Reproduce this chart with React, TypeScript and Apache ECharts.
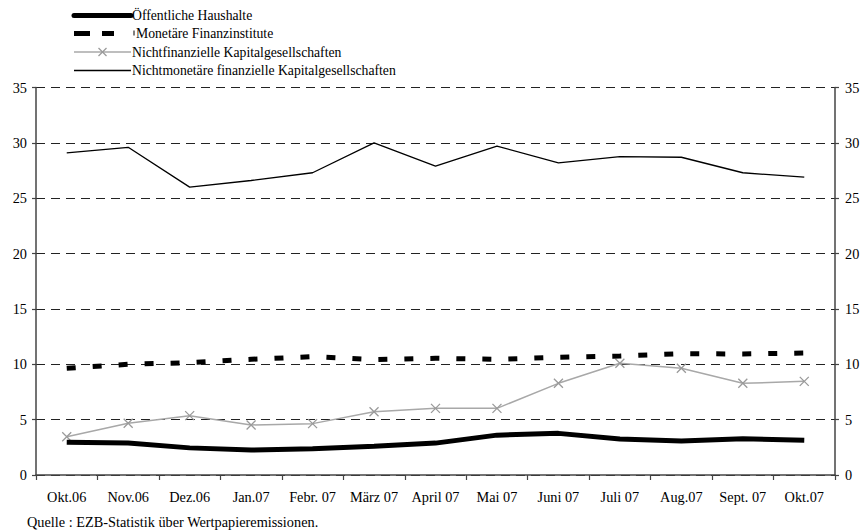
import React, { useEffect, useRef } from "react";
import * as echarts from "echarts";

const categories = ["Okt.06", "Nov.06", "Dez.06", "Jan.07", "Febr. 07", "März 07", "April 07", "Mai 07", "Juni 07", "Juli 07", "Aug.07", "Sept. 07", "Okt.07"];
const oeffentlicheHaushalte = [2.95, 2.9, 2.45, 2.25, 2.38, 2.6, 2.88, 3.6, 3.76, 3.25, 3.07, 3.28, 3.13];
const monetaereFinanzinstitute = [9.64, 10.0, 10.15, 10.45, 10.69, 10.42, 10.54, 10.45, 10.63, 10.75, 10.96, 10.93, 11.02];
const nichtfinanzielle = [3.46, 4.67, 5.36, 4.52, 4.64, 5.72, 6.02, 6.02, 8.28, 10.09, 9.64, 8.28, 8.46];
const nichtmonetaere = [29.1, 29.6, 26.0, 26.6, 27.3, 30.0, 27.9, 29.7, 28.2, 28.75, 28.7, 27.3, 26.9];
const seriesNames = [
  "Öffentliche Haushalte",
  "Monetäre Finanzinstitute",
  "Nichtfinanzielle Kapitalgesellschaften",
  "Nichtmonetäre finanzielle Kapitalgesellschaften",
];
const sourceNote = "Quelle : EZB-Statistik über Wertpapieremissionen.";

const FONT = "Liberation Serif";
const GREY_LINE = "#a8a8a8";
const GREY_MARK = "#9a9a9a";
const AXIS_COLOR = "#444";

function legendGraphic() {
  const x0 = 74;
  const x1 = 131;
  const textX = 132;
  const rows = [15.5, 33.5, 52, 70.5];
  const els: any[] = [];
  els.push({ type: "line", shape: { x1: x0, y1: rows[0], x2: x1, y2: rows[0] }, style: { stroke: "#000", lineWidth: 5, lineCap: "round" } });
  els.push({ type: "line", shape: { x1: x0, y1: rows[1], x2: 114, y2: rows[1] }, style: { stroke: "#000", lineWidth: 5, lineDash: [16, 12, 12, 20] } });
  els.push({ type: "line", shape: { x1: 134, y1: rows[1] - 3, x2: 134, y2: rows[1] + 2 }, style: { stroke: "#000", lineWidth: 1 } });
  els.push({ type: "line", shape: { x1: x0, y1: rows[2], x2: x1, y2: rows[2] }, style: { stroke: GREY_LINE, lineWidth: 1.5 } });
  const cx = 102.5;
  const r = 4;
  els.push({ type: "line", shape: { x1: cx - r, y1: rows[2] - r, x2: cx + r, y2: rows[2] + r }, style: { stroke: GREY_MARK, lineWidth: 1.3 } });
  els.push({ type: "line", shape: { x1: cx - r, y1: rows[2] + r, x2: cx + r, y2: rows[2] - r }, style: { stroke: GREY_MARK, lineWidth: 1.3 } });
  els.push({ type: "line", shape: { x1: x0, y1: rows[3], x2: x1, y2: rows[3] }, style: { stroke: "#000", lineWidth: 1.3 } });
  seriesNames.forEach((name, i) => {
    els.push({
      type: "text",
      x: i === 1 ? 136 : textX,
      y: rows[i],
      style: { text: name, fill: "#000", font: `13.7px "${FONT}"`, verticalAlign: "middle", align: "left" },
    });
  });
  return els;
}

export default function App() {
  const ref = useRef<HTMLDivElement>(null);
  useEffect(() => {
    if (!ref.current) return;
    const chart = echarts.init(ref.current, null, { renderer: "svg" });
    const axisLabel = { color: "#000", fontFamily: FONT, fontSize: 14.3 };
    const yCommon = {
      type: "value",
      min: 0,
      max: 35,
      interval: 5,
      axisLine: { show: true, lineStyle: { color: AXIS_COLOR, width: 1.5 } },
      axisTick: { show: true, length: 4, lineStyle: { color: AXIS_COLOR, width: 1.2 } },
    };
    chart.setOption({
      animation: false,
      backgroundColor: "#fff",
      textStyle: { fontFamily: FONT },
      grid: { left: 36, right: 30, top: 87.5, bottom: 56, containLabel: false },
      xAxis: {
        type: "category",
        data: categories,
        boundaryGap: true,
        axisLine: { lineStyle: { color: AXIS_COLOR, width: 1.5 } },
        axisTick: { show: true, length: 5, alignWithLabel: false, lineStyle: { color: AXIS_COLOR, width: 1.2 } },
        axisLabel: { ...axisLabel, margin: 15, interval: 0 },
        splitLine: { show: false },
      },
      yAxis: [
        {
          ...yCommon,
          position: "left",
          axisLabel: { ...axisLabel, margin: 9 },
          splitLine: { show: true, lineStyle: { color: "#222", width: 1, type: [9, 6] } },
        },
        {
          ...yCommon,
          position: "right",
          axisLabel: { ...axisLabel, margin: 10 },
          splitLine: { show: false },
        },
      ],
      series: [
        {
          name: seriesNames[0],
          type: "line",
          data: oeffentlicheHaushalte,
          symbol: "none",
          lineStyle: { color: "#000", width: 5 },
          itemStyle: { color: "#000" },
          z: 5,
        },
        {
          name: seriesNames[1],
          type: "line",
          data: monetaereFinanzinstitute,
          symbol: "none",
          lineStyle: { color: "#000", width: 5, type: [9, 17], cap: "butt" },
          itemStyle: { color: "#000" },
          z: 4,
        },
        {
          name: seriesNames[2],
          type: "line",
          data: nichtfinanzielle,
          symbol: "path://M0,0L10,10M10,0L0,10",
          symbolSize: 9,
          showSymbol: true,
          lineStyle: { color: GREY_LINE, width: 1.5 },
          itemStyle: { color: "none", borderColor: GREY_MARK, borderWidth: 1.3 },
          z: 3,
        },
        {
          name: seriesNames[3],
          type: "line",
          data: nichtmonetaere,
          symbol: "none",
          lineStyle: { color: "#000", width: 1.3 },
          itemStyle: { color: "#000" },
          z: 3,
        },
      ],
      graphic: [
        ...legendGraphic(),
        {
          type: "text",
          x: 27,
          y: 521.5,
          style: { text: sourceNote, fill: "#000", font: `14.3px "${FONT}"`, verticalAlign: "middle", align: "left" },
        },
      ],
    });
    return () => chart.dispose();
  }, []);
  return <div ref={ref} style={{ position: "absolute", left: 0, top: 0, width: 865, height: 531 }} />;
}
